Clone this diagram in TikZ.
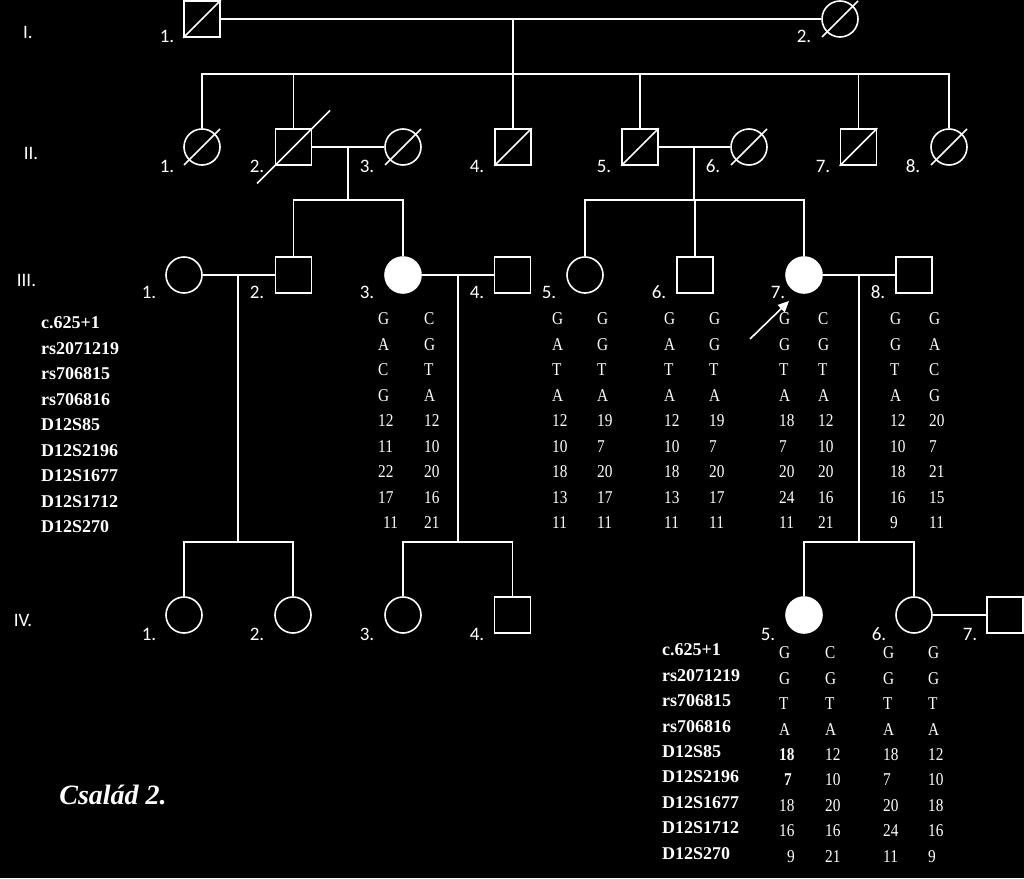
\documentclass[tikz,border=0pt]{standalone}
\usepackage{fontspec}
\setmainfont{Liberation Serif}
\newfontfamily\lblfont{Carlito}
\usetikzlibrary{arrows.meta}
\newcommand\gq[1]{\scalebox{0.85}[1]{#1}}
\begin{document}
\begin{tikzpicture}[x=1pt,y=-1pt,
  ln/.style={draw=white, line width=1.6pt},
  sq/.style={draw=white, line width=1.6pt, minimum size=36pt, inner sep=0pt, rectangle},
  ci/.style={draw=white, line width=1.6pt, minimum size=36pt, inner sep=0pt, circle},
  aff/.style={fill=white},
  num/.style={text=white, font=\lblfont\fontsize{19}{19}\selectfont, inner sep=0pt},
  mk/.style={text=white, font=\bfseries\fontsize{18}{18}\selectfont, anchor=west, inner sep=0pt},
  gt/.style={text=white, font=\fontsize{18}{18}\selectfont, anchor=west, inner sep=0pt},
]
\fill[black] (0,0) rectangle (1024,878);
\useasboundingbox (0,0) rectangle (1024,878);

% generation labels
\node[num] (gI) at (28,32) {I.};
\node[num] (gII) at (31,153) {II.};
\node[num] (gIII) at (26.5,280) {III.};
\node[num] (gIV) at (23,620) {IV.};

% Generation I
\node[sq] (I1) at (202,19) {};
\node[ci] (I2) at (840,19) {};
\draw[ln] (I1.south west) -- (I1.north east);
\draw[ln] (I2.center) ++(-18,18) -- ++(36,-36);
\node[num] (nI1) at (167,36) {1.};
\node[num] (nI2) at (804,36) {2.};

% Generation II
\node[ci] (II1) at (202,147) {};
\node[sq] (II2) at (293.5,147) {};
\node[ci] (II3) at (403,147) {};
\node[sq] (II4) at (513,147) {};
\node[sq] (II5) at (640,147) {};
\node[ci] (II6) at (749,147) {};
\node[sq] (II7) at (858.5,147) {};
\node[ci] (II8) at (949,147) {};
\draw[ln] (II1.center) ++(-18,18) -- ++(36,-36);
\draw[ln] (II2.center) ++(-36.5,36.5) -- ++(73,-73);
\draw[ln] (II3.center) ++(-18,18) -- ++(36,-36);
\draw[ln] (II4.south west) -- (II4.north east);
\draw[ln] (II5.south west) -- (II5.north east);
\draw[ln] (II6.center) ++(-18,18) -- ++(36,-36);
\draw[ln] (II7.south west) -- (II7.north east);
\draw[ln] (II8.center) ++(-18,18) -- ++(36,-36);
\foreach \n/\x in {1/167,2/257,3/367,4/477,5/604,6/713,7/823,8/913}
  \node[num] (nII\n) at (\x,166) {\n.};

% Generation III
\node[ci] (III1) at (184,275) {};
\node[sq] (III2) at (293.5,275) {};
\node[ci,aff] (III3) at (403,275) {};
\node[sq] (III4) at (512.5,275) {};
\node[ci] (III5) at (585,275) {};
\node[sq] (III6) at (695,275) {};
\node[ci,aff] (III7) at (804,275) {};
\node[sq] (III8) at (914,275) {};
\foreach \n/\x in {1/149,2/257,3/367,4/477,5/549,6/659,7/778,8/878}
  \node[num] (nIII\n) at (\x,292) {\n.};

% Generation IV
\node[ci] (IV1) at (184,615) {};
\node[ci] (IV2) at (293,615) {};
\node[ci] (IV3) at (403,615) {};
\node[sq] (IV4) at (512.5,615) {};
\node[ci,aff] (IV5) at (804,615) {};
\node[ci] (IV6) at (914,615) {};
\node[sq] (IV7) at (1005,615) {};
\foreach \n/\x in {1/149,2/257,3/367,4/477}
  \node[num] (nIV\n) at (\x,634) {\n.};
\node[num] (nIV5) at (768,634) {5.};
\node[num] (nIV6) at (879,634) {6.};
\node[num] (nIV7) at (970,634) {7.};

% connectors
\coordinate (m1) at (513,19); \coordinate (s1) at (513,74);
\draw[ln] (I1.east) -- (I2.west);
\draw[ln] (m1) -- (s1);
\draw[ln] (II1.north) -- (II1.north |- s1) -- (II8.north |- s1) -- (II8.north);
\foreach \k in {II2,II4,II5,II7} \draw[ln] (\k.north) -- (\k.north |- s1);

\draw[ln] (II2.east) -- (II3.west);
\coordinate (m2) at (348,147); \coordinate (s2) at (348,200);
\draw[ln] (m2) -- (s2);
\draw[ln] (III2.north) -- (III2.north |- s2) -- (III3.north |- s2) -- (III3.north);

\draw[ln] (II5.east) -- (II6.west);
\coordinate (m3) at (694,147); \coordinate (s3) at (694,200);
\draw[ln] (m3) -- (s3);
\draw[ln] (III5.north) -- (III5.north |- s3) -- (III7.north |- s3) -- (III7.north);
\draw[ln] (III6.north) -- (III6.north |- s3);

\draw[ln] (III1.east) -- (III2.west);
\coordinate (m4) at (238,275); \coordinate (s4) at (238,542);
\draw[ln] (m4) -- (s4);
\draw[ln] (IV1.north) -- (IV1.north |- s4) -- (IV2.north |- s4) -- (IV2.north);

\draw[ln] (III3.east) -- (III4.west);
\coordinate (m5) at (458,275); \coordinate (s5) at (458,542);
\draw[ln] (m5) -- (s5);
\draw[ln] (IV3.north) -- (IV3.north |- s5) -- (IV4.north |- s5) -- (IV4.north);

\draw[ln] (III7.east) -- (III8.west);
\coordinate (m6) at (859,275); \coordinate (s6) at (859,542);
\draw[ln] (m6) -- (s6);
\draw[ln] (IV5.north) -- (IV5.north |- s6) -- (IV6.north |- s6) -- (IV6.north);

\draw[ln] (IV6.east) -- (IV7.west);

% proband arrow
\coordinate (arrS) at (750,339);
\coordinate (arrE) at (789,301);
\draw[ln,-{Triangle[length=11pt,width=10pt]}] (arrS) -- (arrE);

% marker names (top)
\foreach \t [count=\i] in {c.625+1,rs2071219,rs706815,rs706816,D12S85,D12S2196,D12S1677,D12S1712,D12S270}
  \node[mk] (mt\i) at (41,{323+25.5*(\i-1)}) {\t};
% marker names (bottom)
\foreach \t [count=\i] in {c.625+1,rs2071219,rs706815,rs706816,D12S85,D12S2196,D12S1677,D12S1712,D12S270}
  \node[mk] (mb\i) at (662,{650+25.4*(\i-1)}) {\t};

% genotypes generation III
\foreach \v [count=\i] in {G,A,C,G,12,11,22,17}
  \node[gt] (g3a\i) at (378,{319+25.5*(\i-1)}) {\gq{\v}};
\node[gt] (g3a9) at (383,523) {\gq{11}};
\foreach \v [count=\i] in {C,G,T,A,12,10,20,16,21}
  \node[gt] (g3b\i) at (424,{319+25.5*(\i-1)}) {\gq{\v}};

\foreach \v [count=\i] in {G,A,T,A,12,10,18,13,11}
  \node[gt] (g5a\i) at (552,{319+25.5*(\i-1)}) {\gq{\v}};
\foreach \v [count=\i] in {G,G,T,A,19,7,20,17,11}
  \node[gt] (g5b\i) at (597,{319+25.5*(\i-1)}) {\gq{\v}};

\foreach \v [count=\i] in {G,A,T,A,12,10,18,13,11}
  \node[gt] (g6a\i) at (664,{319+25.5*(\i-1)}) {\gq{\v}};
\foreach \v [count=\i] in {G,G,T,A,19,7,20,17,11}
  \node[gt] (g6b\i) at (709,{319+25.5*(\i-1)}) {\gq{\v}};

\foreach \v [count=\i] in {G,G,T,A,18,7,20,24,11}
  \node[gt] (g7a\i) at (779,{319+25.5*(\i-1)}) {\gq{\v}};
\foreach \v [count=\i] in {C,G,T,A,12,10,20,16,21}
  \node[gt] (g7b\i) at (818,{319+25.5*(\i-1)}) {\gq{\v}};

\foreach \v [count=\i] in {G,G,T,A,12,10,18,16,9}
  \node[gt] (g8a\i) at (890,{319+25.5*(\i-1)}) {\gq{\v}};
\foreach \v [count=\i] in {G,A,C,G,20,7,21,15,11}
  \node[gt] (g8b\i) at (929,{319+25.5*(\i-1)}) {\gq{\v}};

% genotypes generation IV
\foreach \v [count=\i] in {G,G,T,A}
  \node[gt] (g45a\i) at (779,{653+25.4*(\i-1)}) {\gq{\v}};
\node[gt] (g45a5) at (779,754.6) {\gq{\textbf{18}}};
\node[gt] (g45a6) at (784,780) {\gq{\textbf{7}}};
\node[gt] (g45a7) at (779,805.4) {\gq{18}};
\node[gt] (g45a8) at (779,830.8) {\gq{16}};
\node[gt] (g45a9) at (787,856.2) {\gq{9}};
\foreach \v [count=\i] in {C,G,T,A,12,10,20,16,21}
  \node[gt] (g45b\i) at (825,{653+25.4*(\i-1)}) {\gq{\v}};

\foreach \v [count=\i] in {G,G,T,A,18,7,20,24,11}
  \node[gt] (g46a\i) at (883,{653+25.4*(\i-1)}) {\gq{\v}};
\foreach \v [count=\i] in {G,G,T,A,12,10,18,16,9}
  \node[gt] (g46b\i) at (928,{653+25.4*(\i-1)}) {\gq{\v}};

% title
\node[text=white, font=\bfseries\itshape\fontsize{28}{28}\selectfont, inner sep=0pt] (title) at (113,795) {Család 2.};
\end{tikzpicture}
\end{document}
